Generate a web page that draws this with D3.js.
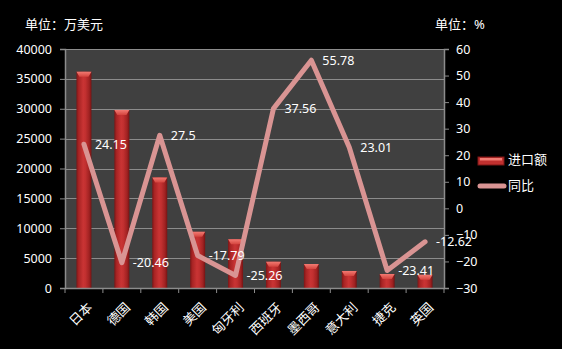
<!DOCTYPE html>
<html>
<head>
<meta charset="utf-8">
<script src="https://cdn.jsdelivr.net/npm/d3@7"></script>
<style>
  html, body { margin: 0; padding: 0; background: #000; }
  svg { display: block; }
  text { font-family: "Noto Sans", "Noto Sans CJK SC", sans-serif; }
</style>
</head>
<body>
<svg id="chart" width="562" height="349"></svg>
<script>
// Import value (10k USD) and year-on-year change (%) by country
const categories = ["日本", "德国", "韩国", "美国", "匈牙利", "西班牙", "墨西哥", "意大利", "捷克", "英国"];
const importValues = [36200, 29800, 18500, 9400, 8150, 4400, 4000, 2850, 2350, 2200];
const yoyValues = [24.15, -20.46, 27.5, -17.79, -25.26, 37.56, 55.78, 23.01, -23.41, -12.62];
const leftTicks = [0, 5000, 10000, 15000, 20000, 25000, 30000, 35000, 40000];
const rightTicks = [-30, -20, -10, 0, 10, 20, 30, 40, 50, 60];
const seriesNames = ["进口额", "同比"];

const svg = d3.select("#chart");
const W = 562, H = 349;
const plot = { left: 65, right: 444, top: 49, bottom: 288 };

svg.append("rect").attr("width", W).attr("height", H).attr("fill", "#000");

const defs = svg.append("defs");
const barGrad = defs.append("linearGradient").attr("id", "barGrad")
  .attr("x1", "0").attr("x2", "1").attr("y1", "0").attr("y2", "0");
[[0, "#7d1616"], [0.15, "#a82424"], [0.45, "#c93434"], [0.6, "#c23030"], [0.85, "#a02222"], [1, "#741313"]]
  .forEach(([o, c]) => barGrad.append("stop").attr("offset", o).attr("stop-color", c));
const capGrad = defs.append("linearGradient").attr("id", "capGrad")
  .attr("x1", "0").attr("x2", "0").attr("y1", "0").attr("y2", "1");
[[0, "#f27a72"], [1, "#d4443e"]]
  .forEach(([o, c]) => capGrad.append("stop").attr("offset", o).attr("stop-color", c));

const x = d3.scaleBand().domain(categories).range([plot.left, plot.right]).paddingInner(0).paddingOuter(0);
const yL = d3.scaleLinear().domain([0, 40000]).range([plot.bottom, plot.top]);
const yR = d3.scaleLinear().domain([-30, 60]).range([plot.bottom, plot.top]);

// plot background
svg.append("rect")
  .attr("x", plot.left).attr("y", plot.top)
  .attr("width", plot.right - plot.left).attr("height", plot.bottom - plot.top)
  .attr("fill", "#404040");

// gridlines
svg.append("g").selectAll("line").data(leftTicks.filter(d => d > 0)).join("line")
  .attr("x1", plot.left).attr("x2", plot.right)
  .attr("y1", d => Math.round(yL(d)) + 0.5).attr("y2", d => Math.round(yL(d)) + 0.5)
  .attr("stroke", "#8c8c8c").attr("stroke-width", 1);

// bars
const barW = 15;
const bars = svg.append("g").selectAll("g").data(categories).join("g");
bars.append("rect")
  .attr("x", (d) => x(d) + x.bandwidth() / 2 - barW / 2)
  .attr("y", (d, i) => yL(importValues[i]))
  .attr("width", barW)
  .attr("height", (d, i) => plot.bottom - yL(importValues[i]))
  .attr("fill", "url(#barGrad)");
bars.append("path")
  .attr("d", (d, i) => {
    const cx = x(d) + x.bandwidth() / 2;
    const top = yL(importValues[i]);
    return `M${cx - barW / 2},${top} L${cx + barW / 2},${top} L${cx + barW / 2 - 3},${top + 5} L${cx - barW / 2 + 3},${top + 5} Z`;
  })
  .attr("fill", "url(#capGrad)");

// axes
const axisColor = "#8c8c8c";
const leftAxis = svg.append("g").attr("transform", `translate(${plot.left},0)`)
  .call(d3.axisLeft(yL).tickValues(leftTicks).tickSize(5).tickPadding(8).tickFormat(d3.format("d")));
const rightAxis = svg.append("g").attr("transform", `translate(${plot.right},0)`)
  .call(d3.axisRight(yR).tickValues(rightTicks).tickSize(5).tickPadding(7).tickFormat(d3.format("d")));
const bottomAxis = svg.append("g").attr("transform", `translate(0,${plot.bottom})`)
  .call(d3.axisBottom(x).tickSize(0).tickFormat(""));

[leftAxis, rightAxis, bottomAxis].forEach(a => {
  a.select(".domain").attr("stroke", axisColor).attr("stroke-width", 1.5);
  a.selectAll(".tick line").attr("stroke", axisColor);
  a.selectAll("text").attr("fill", "#fff").attr("font-size", 12.5);
});

// category boundary ticks
svg.append("g").selectAll("line")
  .data(d3.range(categories.length + 1)).join("line")
  .attr("x1", i => plot.left + i * x.bandwidth()).attr("x2", i => plot.left + i * x.bandwidth())
  .attr("y1", plot.bottom).attr("y2", plot.bottom + 5)
  .attr("stroke", axisColor);

// rotated category labels
svg.append("g").selectAll("text").data(categories).join("text")
  .attr("transform", d => `translate(${x(d) + x.bandwidth() / 2 + 6},${plot.bottom + 17}) rotate(-45)`)
  .attr("text-anchor", "end")
  .attr("dy", "0.35em")
  .attr("fill", "#fff")
  .attr("font-size", 13)
  .attr("font-family", "Noto Sans CJK SC")
  .text(d => d);

// year-on-year line
const line = d3.line()
  .x((d, i) => x(categories[i]) + x.bandwidth() / 2)
  .y(d => yR(d));
svg.append("path")
  .datum(yoyValues)
  .attr("d", line)
  .attr("fill", "none")
  .attr("stroke", "#d99493")
  .attr("stroke-width", 5)
  .attr("stroke-linejoin", "round")
  .attr("stroke-linecap", "round");

// data labels
svg.append("g").selectAll("text").data(yoyValues).join("text")
  .attr("x", (d, i) => x(categories[i]) + x.bandwidth() / 2 + 11)
  .attr("y", d => yR(d))
  .attr("dy", "0.35em")
  .attr("fill", "#fff")
  .attr("font-size", 12.5)
  .text(d => String(d));

// unit labels
svg.append("text").attr("x", 25).attr("y", 24).attr("dy", "0.35em")
  .attr("fill", "#fff").attr("font-size", 13).attr("font-family", "Noto Sans CJK SC")
  .text("单位：万美元");
svg.append("text").attr("x", 435).attr("y", 24).attr("dy", "0.35em")
  .attr("fill", "#fff").attr("font-size", 13).attr("font-family", "Noto Sans CJK SC")
  .text("单位：%");

// legend
const lg = svg.append("g").attr("transform", "translate(478,0)");
lg.append("rect").attr("x", 0).attr("y", 157).attr("width", 26).attr("height", 8)
  .attr("fill", "#c0302f").attr("stroke", "#7d1616").attr("stroke-width", 1);
lg.append("rect").attr("x", 2).attr("y", 158).attr("width", 22).attr("height", 2.5).attr("fill", "#f07a72");
lg.append("text").attr("x", 30).attr("y", 159).attr("dy", "0.35em")
  .attr("fill", "#fff").attr("font-size", 13).attr("font-family", "Noto Sans CJK SC").text(seriesNames[0]);
lg.append("line").attr("x1", 2).attr("x2", 26).attr("y1", 186).attr("y2", 186)
  .attr("stroke", "#d99493").attr("stroke-width", 5).attr("stroke-linecap", "round");
lg.append("text").attr("x", 30).attr("y", 185).attr("dy", "0.35em")
  .attr("fill", "#fff").attr("font-size", 13).attr("font-family", "Noto Sans CJK SC").text(seriesNames[1]);
</script>
</body>
</html>
